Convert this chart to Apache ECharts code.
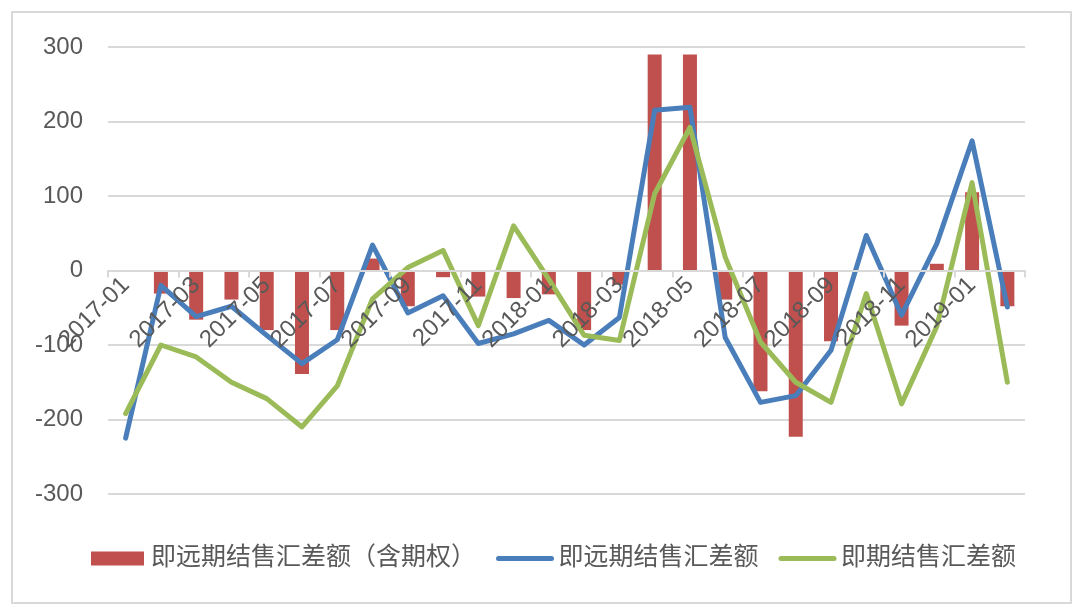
<!DOCTYPE html>
<html>
<head>
<meta charset="utf-8">
<script src="https://cdn.jsdelivr.net/npm/echarts@6/dist/echarts.min.js"></script>
<style>
html,body{margin:0;padding:0;background:#fff;}
#chart{width:1080px;height:614px;}
</style>
</head>
<body>
<div id="chart"></div>
<script>
const categories = ['2017-01','2017-02','2017-03','2017-04','2017-05','2017-06','2017-07','2017-08','2017-09','2017-10','2017-11','2017-12',
  '2018-01','2018-02','2018-03','2018-04','2018-05','2018-06','2018-07','2018-08','2018-09','2018-10','2018-11','2018-12',
  '2019-01','2019-02'];
const seriesNames = ['即远期结售汇差额（含期权）','即远期结售汇差额','即期结售汇差额'];
const barValues = [0,-31,-66,-39,-80,-139,-80,16,-48,-9,-35,-37,-32,-80,-19,290,290,-39,-162,-223,-95,0,-74,9,105,-48];
const forwardValues = [-225,-20,-62,-48,-87,-125,-93,34,-57,-34,-98,-85,-67,-100,-63,215,219,-90,-177,-168,-107,47,-60,36,174,-49];
const spotValues = [-192,-100,-116,-150,-172,-210,-155,-38,4,27,-74,60,-12,-87,-94,103,192,18,-96,-150,-177,-31,-179,-75,118,-150];
const yTicks = {min:-300, max:300, interval:100};

const FONT = "'Liberation Sans','Noto Sans CJK SC',sans-serif";
const TXT = '#595959';
const GRID = {left:108, right:55, top:47, bottom:120};
const plotH = 614 - GRID.top - GRID.bottom;
// put the category axis on the zero line
const zeroOffset = -plotH * (0 - yTicks.min) / (yTicks.max - yTicks.min);

const chart = echarts.init(document.getElementById('chart'), null, {renderer:'canvas'});
const lineLegend = (name, color) => ({
  name, itemStyle:{color:'rgba(0,0,0,0)', borderWidth:0, opacity:0},
  lineStyle:{width:5, color, cap:'round'}
});
chart.setOption({
  animation:false,
  backgroundColor:'#fff',
  graphic:[{type:'rect', shape:{x:12,y:12,width:1059,height:591}, style:{fill:'none', stroke:'#d9d9d9', lineWidth:2}, silent:true, z:-1}],
  grid:{left:GRID.left, right:GRID.right, top:GRID.top, bottom:GRID.bottom, containLabel:false},
  legend:{
    bottom:38, left:86, itemWidth:53, itemHeight:14, itemGap:20,
    textStyle:{fontSize:25, color:TXT, fontFamily:FONT, padding:[0,0,0,2]},
    data:[{name:seriesNames[0], icon:'rect'}, lineLegend(seriesNames[1], '#4a7ebb'), lineLegend(seriesNames[2], '#9bbb59')]
  },
  xAxis:{
    type:'category', data:categories, boundaryGap:true, offset:zeroOffset, z:5,
    axisLine:{onZero:false, lineStyle:{color:'#d9d9d9', width:2}},
    axisTick:{show:true, interval:1, length:7, lineStyle:{color:'#d9d9d9', width:2}},
    axisLabel:{interval:1, rotate:45, fontSize:24, color:TXT, fontFamily:FONT, margin:11}
  },
  yAxis:{
    type:'value', min:yTicks.min, max:yTicks.max, interval:yTicks.interval,
    axisLine:{show:false}, axisTick:{show:false},
    axisLabel:{fontSize:24, color:TXT, fontFamily:FONT, margin:25},
    splitLine:{lineStyle:{color:'#d9d9d9', width:2}}
  },
  series:[
    {name:seriesNames[0], type:'bar', data:barValues, barWidth:14, itemStyle:{color:'#c0504d'}},
    {name:seriesNames[1], type:'line', data:forwardValues, symbol:'none', lineStyle:{width:5, color:'#4a7ebb', join:'round', cap:'round'}, itemStyle:{color:'#4a7ebb'}},
    {name:seriesNames[2], type:'line', data:spotValues, symbol:'none', lineStyle:{width:5, color:'#9bbb59', join:'round', cap:'round'}, itemStyle:{color:'#9bbb59'}}
  ]
});
</script>
</body>
</html>
